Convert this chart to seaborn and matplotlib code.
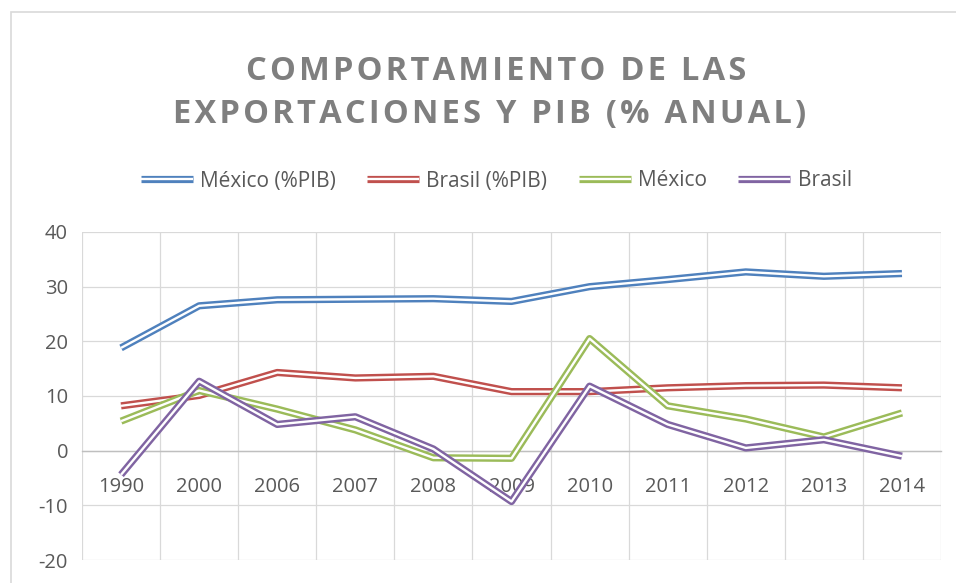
import seaborn as sns
import matplotlib.pyplot as plt
import matplotlib.patheffects as pe
import pandas as pd
from matplotlib.lines import Line2D
from matplotlib.patches import Rectangle

# data
years = ['1990', '2000', '2006', '2007', '2008', '2009', '2010', '2011', '2012', '2013', '2014']
mexico_pib = [18.8, 26.5, 27.6, 27.7, 27.8, 27.3, 30.0, 31.3, 32.7, 31.9, 32.4]
brasil_pib = [8.2, 10.1, 14.3, 13.3, 13.6, 10.8, 10.8, 11.5, 11.9, 12.0, 11.5]
mexico = [5.4, 11.0, 7.6, 3.8, -1.3, -1.4, 20.5, 8.2, 5.8, 2.5, 6.9]
brasil = [-4.4, 12.7, 4.8, 6.2, 0.3, -9.3, 11.8, 4.8, 0.5, 2.0, -1.0]

series = ['México (%PIB)', 'Brasil (%PIB)', 'México', 'Brasil']
colors = ['#4f81bd', '#c0504d', '#9bbb59', '#8064a2']

df = pd.DataFrame({
    'año': years * 4,
    'valor': mexico_pib + brasil_pib + mexico + brasil,
    'serie': [s for s in series for _ in years],
})

sns.set_style('white')
plt.rcParams['font.family'] = ['Open Sans', 'DejaVu Sans']
plt.rcParams['axes.unicode_minus'] = False

OUTER, INNER = 5.2, 1.7


def double_line(c):
    # Excel "double" compound line: coloured stroke with a white core
    return [pe.Stroke(linewidth=OUTER, foreground=c), pe.Normal()]


fig = plt.figure(figsize=(9.56, 5.83), dpi=100)
ax = fig.add_axes([82 / 956, 1 - 560 / 583, (941 - 82) / 956, (560 - 232) / 583])

z = 3
for s, c in zip(series, colors):
    sub = df[df['serie'] == s]
    sns.lineplot(data=sub, x='año', y='valor', color='white', lw=INNER, ax=ax,
                 legend=False, sort=False, zorder=z, solid_capstyle='butt',
                 path_effects=double_line(c))
    z += 1

ax.set_xlim(-0.5, len(years) - 0.5)
ax.set_ylim(-20, 40)
ax.set_yticks(range(-20, 41, 10))
ax.set_xticks(range(len(years)))
ax.set_xticklabels(years)
ax.set_xticks([i - 0.5 for i in range(len(years) + 1)], minor=True)
ax.set_xlabel('')
ax.set_ylabel('')

grid_c = '#d9d9d9'
ax.grid(axis='y', which='major', color=grid_c, lw=0.9)
ax.grid(axis='x', which='minor', color=grid_c, lw=0.9)
ax.grid(axis='x', which='major', visible=False)
ax.set_axisbelow(True)

for side in ['top', 'right', 'left']:
    ax.spines[side].set_visible(False)
ax.spines['bottom'].set_position(('data', 0))
ax.spines['bottom'].set_color('#bfbfbf')
ax.spines['bottom'].set_linewidth(1.0)
ax.spines['bottom'].set_zorder(1)

ax.tick_params(axis='x', which='both', length=0, pad=19, labelsize=14.5, labelcolor='#595959')
ax.tick_params(axis='y', length=0, pad=10, labelsize=14.5, labelcolor='#595959')

# title with Excel-like letter spacing
sp = '\u200a'
line1 = sp.join('COMPORTAMIENTO DE LAS')
line2 = sp.join('EXPORTACIONES Y PIB (% ANUAL)')
fig.text(0.519, 1 - 72 / 583, line1, ha='center', va='center', fontsize=23.5,
         fontweight='bold', color='#7f7f7f')
fig.text(0.512, 1 - 115 / 583, line2, ha='center', va='center', fontsize=23.5,
         fontweight='bold', color='#7f7f7f')

handles = [Line2D([], [], color='white', lw=INNER, solid_capstyle='butt',
                  path_effects=double_line(c)) for c in colors]
fig.legend(handles, series, loc='center', bbox_to_anchor=(0.519, 1 - 181 / 583),
           ncol=4, frameon=False, fontsize=15, labelcolor='#595959',
           handlelength=2.5, columnspacing=1.5, handletextpad=0.35)

# chart area border
fig.patches.append(Rectangle((11 / 956, -0.05), 1.2, 1 - 12 / 583 + 0.05,
                             transform=fig.transFigure, fill=False,
                             edgecolor='#d9d9d9', lw=1.2, zorder=0))

fig.savefig('out.png', dpi=100)
plt.close()
